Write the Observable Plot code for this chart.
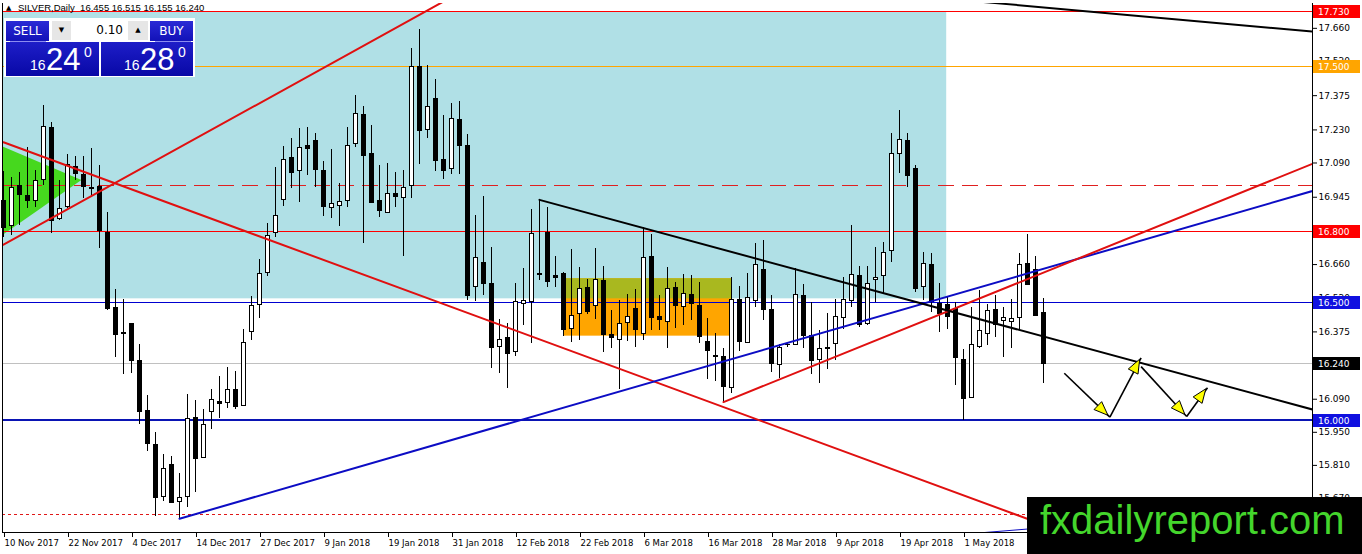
<!DOCTYPE html>
<html><head><meta charset="utf-8">
<script src="https://cdn.jsdelivr.net/npm/d3@7"></script>
<script src="https://cdn.jsdelivr.net/npm/@observablehq/plot@0.6"></script>
<style>
body{margin:0;background:#fff;}
#wrap{position:relative;width:1362px;height:554px;overflow:hidden;font-family:"DejaVu Sans",sans-serif;}
#wrap svg{position:absolute;left:0;top:0;}
.abs{position:absolute;}
.btn{background:linear-gradient(#2a2ad6,#1212b8);color:#fff;font:12px "DejaVu Sans";text-align:center;line-height:20px;}
.big{background:linear-gradient(#1e1ec8,#0808a6);}
.grey{background:#e6e6e6;font-size:7px;text-align:center;line-height:19px;color:#000;}
</style></head><body><div id="wrap"></div>
<script>
// ---- OHLC data (bar index 0 = 10 Nov 2017) ----
const opens  = [16.927,16.825,16.992,16.952,16.927,17.020,17.239,16.851,16.902,17.072,17.041,16.986,16.990,16.795,16.478,16.370,16.409,16.250,16.042,15.897,15.678,15.812,15.656,15.675,16.011,15.842,16.035,16.080,16.075,16.130,16.063,16.375,16.490,16.625,16.793,16.934,17.111,17.058,17.160,17.185,17.058,16.900,16.910,16.928,17.171,17.294,17.126,16.927,16.879,16.960,16.943,16.991,17.496,17.230,17.362,17.103,17.065,17.274,17.160,16.564,16.667,16.576,16.310,16.350,16.289,16.494,16.501,16.621,16.793,16.612,16.618,16.388,16.449,16.560,16.483,16.590,16.360,16.341,16.413,16.470,16.367,16.694,16.440,16.419,16.562,16.480,16.532,16.483,16.334,16.275,16.268,16.138,16.508,16.329,16.505,16.639,16.466,16.236,16.320,16.320,16.529,16.356,16.257,16.308,16.322,16.435,16.505,16.610,16.409,16.595,16.610,16.717,17.126,17.185,17.065,16.564,16.660,16.494,16.487,16.473,16.257,16.096,16.310,16.367,16.468,16.423,16.418,16.435,16.663,16.635,16.455];
const highs  = [17.054,17.030,17.048,17.157,17.058,17.333,17.263,17.016,17.125,17.118,17.118,17.150,17.079,16.879,16.555,16.512,16.412,16.320,16.106,15.950,15.855,15.848,15.774,16.110,16.085,16.047,16.131,16.186,16.223,16.207,16.384,16.525,16.682,16.835,17.072,17.160,17.192,17.235,17.239,17.214,17.096,17.147,17.002,17.242,17.376,17.329,17.249,17.079,17.087,17.050,17.058,17.573,17.654,17.503,17.442,17.291,17.340,17.350,17.209,16.868,16.948,16.734,16.426,16.409,16.579,16.642,16.892,16.934,16.903,16.694,16.625,16.722,16.646,16.595,16.727,16.652,16.466,16.508,16.533,16.553,16.816,16.787,16.529,16.646,16.586,16.618,16.614,16.586,16.430,16.367,16.303,16.607,16.567,16.624,16.751,16.762,16.529,16.320,16.330,16.642,16.576,16.501,16.381,16.452,16.511,16.607,16.825,16.652,16.651,16.734,16.755,17.214,17.312,17.214,17.079,16.713,16.706,16.581,16.525,16.501,16.299,16.480,16.550,16.491,16.529,16.480,16.511,16.706,16.786,16.694,16.515];
const lows   = [16.776,16.783,16.825,16.896,16.903,16.995,16.790,16.847,16.896,17.016,16.938,16.952,16.727,16.466,16.268,16.193,16.198,15.982,15.870,15.595,15.658,15.648,15.584,15.630,15.697,15.840,15.961,16.007,16.049,16.045,16.060,16.339,16.433,16.611,16.773,16.906,16.981,16.924,17.037,16.988,16.864,16.857,16.822,16.903,17.157,16.748,16.918,16.858,16.877,16.900,16.696,16.941,17.084,17.192,17.055,17.019,17.041,17.041,16.508,16.505,16.529,16.219,16.198,16.137,16.272,16.402,16.325,16.593,16.564,16.562,16.356,16.332,16.339,16.449,16.426,16.289,16.303,16.130,16.336,16.310,16.339,16.381,16.381,16.303,16.388,16.402,16.423,16.325,16.172,16.166,16.078,16.113,16.293,16.327,16.477,16.423,16.205,16.176,16.310,16.318,16.303,16.195,16.155,16.214,16.254,16.384,16.480,16.395,16.404,16.501,16.539,16.670,17.044,16.988,16.543,16.508,16.459,16.374,16.384,16.148,16.000,16.092,16.303,16.317,16.353,16.268,16.303,16.384,16.574,16.444,16.155];
const closes = [16.814,16.983,16.955,16.930,17.015,17.242,16.845,16.896,17.082,17.044,16.988,16.981,16.803,16.473,16.363,16.365,16.251,16.035,15.901,15.673,15.795,15.652,15.673,16.007,15.838,15.983,16.085,16.071,16.127,16.056,16.329,16.483,16.621,16.783,16.865,17.104,17.047,17.154,17.150,17.061,16.903,16.917,16.924,17.160,17.298,17.119,16.920,16.886,16.957,16.945,16.985,17.496,17.225,17.326,17.098,17.058,17.277,17.161,16.525,16.689,16.576,16.306,16.341,16.282,16.501,16.505,16.790,16.614,16.586,16.607,16.384,16.444,16.555,16.459,16.593,16.360,16.350,16.409,16.440,16.384,16.689,16.433,16.426,16.557,16.483,16.536,16.491,16.353,16.294,16.273,16.141,16.511,16.332,16.519,16.660,16.468,16.240,16.308,16.321,16.532,16.356,16.251,16.303,16.306,16.437,16.511,16.614,16.406,16.579,16.602,16.710,17.129,17.188,17.033,16.557,16.663,16.501,16.449,16.437,16.265,16.092,16.320,16.377,16.463,16.406,16.435,16.428,16.660,16.574,16.444,16.240];

// ---- axes ----
const dateLabels = ["10 Nov 2017","22 Nov 2017","4 Dec 2017","14 Dec 2017","27 Dec 2017","9 Jan 2018","19 Jan 2018","31 Jan 2018","12 Feb 2018","22 Feb 2018","6 Mar 2018","16 Mar 2018","28 Mar 2018","9 Apr 2018","19 Apr 2018","1 May 2018"];
const dateLabelBars = [0,8,16,24,32,40,48,56,64,72,80,88,96,104,112,120];
const priceTicks = [17.660,17.520,17.375,17.230,17.090,16.945,16.660,16.520,16.375,16.090,15.950,15.810,15.670];
const xDomain = [-0.125, 163.625];
const yDomain = [15.5259, 17.7651];

// ---- horizontal levels ----
const levelPrices = [17.730, 17.500, 16.995, 16.800, 16.500, 16.240, 16.000, 15.602];
const levelColors = ["#ff0000","#ffa500","#e02020","#ff0000","#0000d0","#c0c0c0","#0a14b4","#e01818"];
const levelWidths = [1,1,1,1,1,1,2,1];
const levelDash   = ["none","none","16,8","none","none","none","none","3,3"];
const labelPrices = [17.730, 17.500, 16.800, 16.500, 16.240, 16.000];
const labelColors = ["#ff0000","#ffa500","#ff0000","#1010e0","#000000","#1010e0"];

// ---- zones ----
const zoneBlue   = {x1:-1, x2:117.9, y1:16.515, y2:17.730};
const zoneOrange = {x1:70.0, x2:91.0, y1:16.357, y2:16.600};
const zoneOlive  = {x1:70.0, x2:91.0, y1:16.515, y2:16.600};
const triX  = [-0.2, 9.8];
const triLo = [16.780, 17.016];
const triHi = [17.160, 17.016];

// ---- trend lines [barIndex, price] ----
const trendRedDown  = [[0,17.178],[140,15.434]];
const trendRedUp    = [[0,16.744],[60,17.867]];
const trendRedChan  = [[90,16.078],[170,17.174]];
const trendBlue     = [[22,15.584],[170,17.034]];
const trendBlueLow  = [[122.7,15.526],[170,15.656]];
const trendBlack    = [[67,16.934],[170,15.988]];
const trendBlackTop = [[120,17.779],[170,17.627]];

// ---- projected path arrows ----
const arrowFrom = [[132.6,16.200],[138.3,16.014],[142.2,16.228],[147.9,16.017]];
const arrowTo   = [[138.3,16.014],[142.2,16.265],[147.9,16.017],[150.5,16.139]];

const bars = opens.map((o,i)=>({i,o,h:highs[i],l:lows[i],c:closes[i]}));
const bw = 0.25;
const up = bars.filter(d=>d.c>=d.o), dn = bars.filter(d=>d.c<d.o);
const doji = bars.filter(d=>Math.abs(d.c-d.o)<0.005);
const levels = levelPrices.map((p,k)=>({p,color:levelColors[k],w:levelWidths[k],dash:levelDash[k]}));
const toPts = (arr)=>arr.map(([x,y])=>({x,y}));
const line = (arr,color,w)=>Plot.line(toPts(arr),{x:"x",y:"y",stroke:color,strokeWidth:w,clip:true});

const plot = Plot.plot({
  width:1362, height:554,
  marginLeft:2, marginRight:50, marginTop:3, marginBottom:22,
  x:{domain:xDomain}, y:{domain:yDomain},
  style:{fontFamily:"DejaVu Sans", fontSize:"9px", background:"transparent", color:"#000", overflow:"visible"},
  marks:[
    Plot.rect([zoneBlue],{x1:"x1",x2:"x2",y1:"y1",y2:"y2",fill:"#b0e0e6",clip:true}),
    Plot.rect([zoneOrange],{x1:"x1",x2:"x2",y1:"y1",y2:"y2",fill:"#ffa500",clip:true}),
    Plot.rect([zoneOlive],{x1:"x1",x2:"x2",y1:"y1",y2:"y2",fill:"#a9b81f",clip:true}),
    Plot.areaY(triX.map((x,k)=>({x,lo:triLo[k],hi:triHi[k]})),{x:"x",y1:"lo",y2:"hi",fill:"#46d81e",clip:true}),
    ...levels.map(l=>Plot.ruleY([l.p],{stroke:l.color,strokeWidth:l.w,strokeDasharray:l.dash,shapeRendering:"crispEdges"})),
    Plot.ruleX(bars,{x:"i",y1:"l",y2:"h",stroke:"#000",strokeWidth:1,shapeRendering:"crispEdges"}),
    Plot.rect(up,{x1:d=>d.i-bw,x2:d=>d.i+bw,y1:"o",y2:"c",fill:"#fff",stroke:"#000",strokeWidth:1,shapeRendering:"crispEdges"}),
    Plot.rect(dn,{x1:d=>d.i-bw,x2:d=>d.i+bw,y1:"o",y2:"c",fill:"#000",stroke:"#000",strokeWidth:1,shapeRendering:"crispEdges"}),
    Plot.ruleY(doji,{y:"c",x1:d=>d.i-bw,x2:d=>d.i+bw+0.125,stroke:"#000",strokeWidth:1,shapeRendering:"crispEdges"}),
    line(trendRedDown,"#e01010",2),
    line(trendRedUp,"#e01010",2),
    line(trendBlue,"#0c0cc4",2),
    line(trendBlueLow,"#0c0cc4",1),
    line(trendRedChan,"#e01010",2),
    line(trendBlack,"#000",2),
    line(trendBlackTop,"#000",2),
    Plot.link(arrowFrom.map((f,k)=>({x1:f[0],y1:f[1],x2:arrowTo[k][0],y2:arrowTo[k][1]})),{x1:"x1",y1:"y1",x2:"x2",y2:"y2",stroke:"#000",strokeWidth:1.6}),
    Plot.ruleX([xDomain[0], xDomain[1]],{stroke:"#000",shapeRendering:"crispEdges"}),
    Plot.ruleY([yDomain[0]],{stroke:"#000",shapeRendering:"crispEdges"}),
    Plot.axisY({anchor:"right",ticks:priceTicks,tickFormat:d3.format(".3f"),tickSize:4,tickPadding:2,fontSize:9}),
    Plot.axisX({ticks:dateLabelBars,tickFormat:d=>dateLabels[dateLabelBars.indexOf(d)],tickSize:5,tickPadding:2,textAnchor:"start",dx:1,fontSize:8.5})
  ]
});

const wrap = document.getElementById("wrap");
wrap.appendChild(plot);

// price label boxes on the right scale & arrowheads, positioned through Plot's scales
const sx = plot.scale("x"), sy = plot.scale("y");
const svg = d3.select(plot);
const g = svg.append("g").attr("text-anchor","start");
labelPrices.forEach((p,k)=>{
  const y = sy.apply(p);
  g.append("rect").attr("x",1313).attr("y",Math.round(y)-6).attr("width",47).attr("height",13).attr("fill",labelColors[k]);
  g.append("text").attr("x",1318).attr("y",Math.round(y)+0.5).attr("dy","0.35em").attr("fill","#fff")
    .attr("text-anchor","start").attr("font-family","DejaVu Sans").attr("font-size",9).text(p.toFixed(3));
});
arrowFrom.forEach((f,k)=>{
  const x1=sx.apply(f[0]), y1=sy.apply(f[1]), x2=sx.apply(arrowTo[k][0]), y2=sy.apply(arrowTo[k][1]);
  const L=Math.hypot(x2-x1,y2-y1), ux=(x2-x1)/L, uy=(y2-y1)/L;
  const tx=x2-ux*2, ty=y2-uy*2, hl=14, hw=5.5;
  const bx=tx-ux*hl, by=ty-uy*hl;
  const pts=[[tx,ty],[bx-uy*hw,by+ux*hw],[bx+uy*hw,by-ux*hw]];
  g.append("polygon").attr("points",pts.map(p=>p.join(",")).join(" "))
    .attr("fill","#ffff00").attr("stroke","#000").attr("stroke-width",1);
});

// header text, trade panel, watermark
wrap.insertAdjacentHTML("beforeend", `
<div class="abs" style="left:6px;top:4px;font-size:7px;">&#9650;</div>
<div class="abs" style="left:18px;top:3px;font:9.5px 'Liberation Sans';line-height:10px;white-space:pre;color:#000;">SILVER,Daily  16.455 16.515 16.155 16.240</div>
<div class="abs" style="left:4px;top:18px;width:191px;height:59px;background:#fff;"></div>
<div class="abs btn" style="left:6px;top:21px;width:43px;height:20px;">SELL</div>
<div class="abs grey" style="left:52px;top:21px;width:19px;height:19px;">&#9660;</div>
<div class="abs" style="left:71px;top:21px;width:52px;height:19px;background:#fff;text-align:right;padding-right:5px;font:12px 'DejaVu Sans';line-height:19px;">0.10</div>
<div class="abs grey" style="left:128px;top:21px;width:20px;height:19px;">&#9650;</div>
<div class="abs btn" style="left:150px;top:21px;width:43px;height:20px;">BUY</div>
<div class="abs" style="left:10px;top:41px;width:36px;height:1px;background:#8c8cf0;"></div>
<div class="abs" style="left:155px;top:41px;width:36px;height:1px;background:#8c8cf0;"></div>
<div class="abs big" style="left:6px;top:42px;width:93px;height:34px;"></div>
<div class="abs big" style="left:101px;top:42px;width:92px;height:34px;"></div>
<div class="abs" style="left:30px;top:58px;font:14px 'Liberation Sans';line-height:14px;color:#fff;">16</div>
<div class="abs" style="left:46px;top:44px;font:31px 'Liberation Sans';line-height:31px;color:#fff;">24</div>
<div class="abs" style="left:84px;top:45px;font:14px 'Liberation Sans';line-height:14px;color:#fff;">0</div>
<div class="abs" style="left:124px;top:58px;font:14px 'Liberation Sans';line-height:14px;color:#fff;">16</div>
<div class="abs" style="left:140px;top:44px;font:31px 'Liberation Sans';line-height:31px;color:#fff;">28</div>
<div class="abs" style="left:178px;top:45px;font:14px 'Liberation Sans';line-height:14px;color:#fff;">0</div>
<div class="abs" style="left:1027px;top:497px;width:335px;height:57px;background:#000;"></div>
<div class="abs" style="left:1040px;top:500px;font:40px 'Liberation Sans';line-height:40px;color:#44d62c;white-space:nowrap;">fxdailyreport.com</div>
`);
</script></body></html>
